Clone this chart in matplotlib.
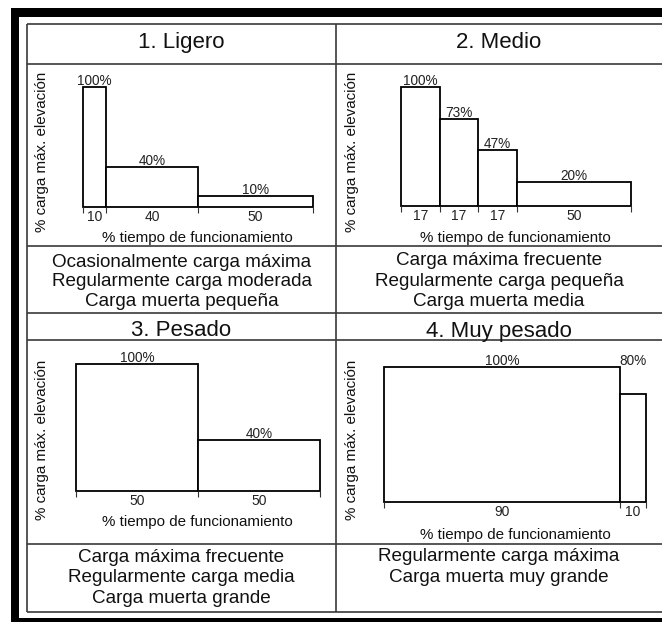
import numpy as np
import matplotlib
matplotlib.use("Agg")
import matplotlib.pyplot as plt
from matplotlib.patches import Rectangle

plt.rcParams["font.family"] = ["Liberation Sans", "DejaVu Sans"]

# ==========================
# Data
# ==========================
titles = ["1. Ligero", "2. Medio", "3. Pesado", "4. Muy pesado"]

# % tiempo de funcionamiento (ancho de cada escalón)
ligero_tiempo = [10, 40, 50]
medio_tiempo = [17, 17, 17, 50]
pesado_tiempo = [50, 50]
muy_pesado_tiempo = [90, 10]

# % carga máx. (altura dibujada) y rótulo de cada escalón
ligero_carga = [100, 33, 9]
medio_carga = [100, 73, 47, 20]
pesado_carga = [100, 40]
muy_pesado_carga = [100, 80]

ligero_rotulo = ["100%", "40%", "10%"]
medio_rotulo = ["100%", "73%", "47%", "20%"]
pesado_rotulo = ["100%", "40%"]
muy_pesado_rotulo = ["100%", "80%"]

ligero_desc = ["Ocasionalmente carga máxima", "Regularmente carga moderada",
               "Carga muerta pequeña"]
medio_desc = ["Carga máxima frecuente", "Regularmente carga pequeña",
              "Carga muerta media"]
pesado_desc = ["Carga máxima frecuente", "Regularmente carga media",
               "Carga muerta grande"]
muy_pesado_desc = ["Regularmente carga máxima", "Carga muerta muy grande"]

ylabel = "% carga máx. elevación"
xlabel = "% tiempo de funcionamiento"

# ==========================
# Layout (pixels)
# ==========================
W, H = 662, 622
ink = "#111111"
grid_c = "#3a3a3a"

# box = (x0, x1, y_base, y_top), col centre, title baseline, ylabel xy,
# xlabel xy (baseline), first description baseline, line step
panels = [
    dict(t=ligero_tiempo, c=ligero_carga, r=ligero_rotulo, d=ligero_desc,
         box=(83, 313, 207, 87), cx=181.5, ty=48, yl=(42, 152),
         xl=(197, 242), dy=267, step=19.5, on_top=False),
    dict(t=medio_tiempo, c=medio_carga, r=medio_rotulo, d=medio_desc,
         box=(401, 631, 206, 87), cx=499, ty=48, yl=(352, 152),
         xl=(515, 242), dy=265, step=20.5, on_top=False),
    dict(t=pesado_tiempo, c=pesado_carga, r=pesado_rotulo, d=pesado_desc,
         box=(76, 320, 491, 364), cx=181.5, ty=336, yl=(42, 440),
         xl=(197, 526), dy=562, step=20.5, on_top=False),
    dict(t=muy_pesado_tiempo, c=muy_pesado_carga, r=muy_pesado_rotulo,
         d=muy_pesado_desc, box=(384, 646, 502, 367), cx=499, ty=336.5,
         yl=(352, 440), xl=(515, 539), dy=561, step=21, on_top=True),
]

fig = plt.figure(figsize=(W / 100, H / 100), dpi=100)

# background axes in pixel coordinates for the table
bg = fig.add_axes([0, 0, 1, 1], zorder=0)
bg.set_xlim(0, W)
bg.set_ylim(H, 0)
bg.axis("off")

# thick black frame (left, top, bottom)
bg.add_patch(Rectangle((11, 8), W - 11, 9, color="black", lw=0))
bg.add_patch(Rectangle((11, 8), 7.5, H - 8, color="black", lw=0))
bg.add_patch(Rectangle((11, 618), W - 11, 4, color="black", lw=0))

# thin table lines
for y in [23.5, 63.5, 246, 313, 340, 543.5, 612]:
    bg.plot([27, W], [y, y], color=grid_c, lw=1.2, solid_capstyle="butt")
for x in [27, 335.5]:
    bg.plot([x, x], [23.5, 612], color=grid_c, lw=1.2, solid_capstyle="butt")

for title, p in zip(titles, panels):
    x0, x1, yb, yt = p["box"]
    t = np.array(p["t"], dtype=float)
    c = np.array(p["c"], dtype=float)
    left = np.concatenate([[0], np.cumsum(t)[:-1]])
    total = t.sum()

    ax = fig.add_axes([x0 / W, 1 - yb / H, (x1 - x0) / W, (yb - yt) / H],
                      zorder=2)
    ax.patch.set_alpha(0)
    ax.bar(left, c, width=t, align="edge", facecolor="white",
           edgecolor="black", lw=1.3, clip_on=False)
    ax.set_xlim(0, total)
    ax.set_ylim(0, 100)

    for s in ax.spines.values():
        s.set_visible(False)
    ax.set_yticks([])
    edges = np.concatenate([[0], np.cumsum(t)])
    ax.set_xticks(edges)
    ax.set_xticklabels([])
    ax.tick_params(axis="x", which="major", direction="out", length=4.5,
                   width=0.8, color="#333333")
    ax.set_xticks(left + t / 2, minor=True)
    ax.set_xticklabels([f"{v:g}" for v in t], minor=True)
    ax.tick_params(axis="x", which="minor", length=0, pad=2.5,
                   labelsize=10, labelcolor="#222222")

    for l, w, h, txt in zip(left, t, c, p["r"]):
        y = 100 if p["on_top"] else h
        ax.annotate(txt, (l + w / 2, y), xytext=(0, 1.5),
                    textcoords="offset points", ha="center", va="baseline",
                    fontsize=9.8, color="#222222", annotation_clip=False)

    # texts of the cell
    bg.text(p["cx"], p["ty"], title, ha="center", va="baseline",
            fontsize=16, color=ink)
    bg.text(p["yl"][0], p["yl"][1], ylabel, rotation=90, ha="center",
            va="center", fontsize=10.9, color=ink)
    bg.text(p["xl"][0], p["xl"][1], xlabel, ha="center", va="baseline",
            fontsize=10.9, color=ink)
    for i, line in enumerate(p["d"]):
        bg.text(p["cx"], p["dy"] + i * p["step"], line, ha="center",
                va="baseline", fontsize=13.6, color=ink)

fig.savefig("out.png", dpi=100)
